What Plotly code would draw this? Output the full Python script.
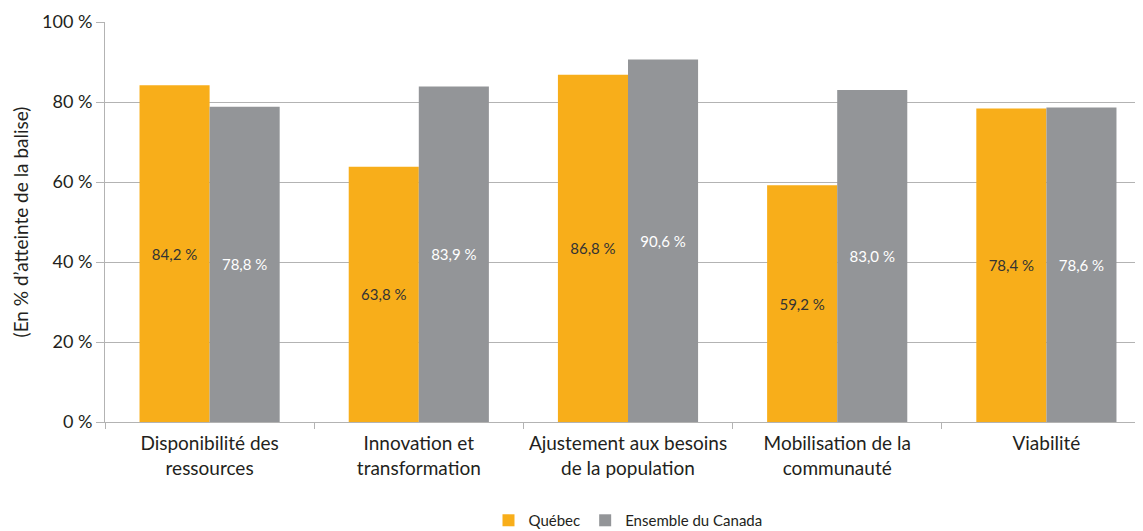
import plotly.graph_objects as go

categories = ["Disponibilité des<br>ressources", "Innovation et<br>transformation",
              "Ajustement aux besoins<br>de la population", "Mobilisation de la<br>communauté",
              "Viabilité"]
quebec = [84.2, 63.8, 86.8, 59.2, 78.4]
canada = [78.8, 83.9, 90.6, 83.0, 78.6]
y_ticks = [0, 20, 40, 60, 80, 100]


def fr(v):
    return f"{v:.1f}".replace(".", ",") + " %"


fig = go.Figure()
fig.add_trace(go.Bar(x=categories, y=quebec, name="Québec", marker_color="#F8AE1A",
                     marker_line_width=0,
                     text=[fr(v) for v in quebec], textposition="inside",
                     insidetextanchor="middle", textfont=dict(color="#333333", size=15)))
fig.add_trace(go.Bar(x=categories, y=canada, name="Ensemble du Canada", marker_color="#939598",
                     marker_line_width=0,
                     text=[fr(v) for v in canada], textposition="inside",
                     insidetextanchor="middle", textfont=dict(color="#ffffff", size=15)))

fig.update_layout(
    width=1143, height=523,
    barmode="group", bargap=0.33, bargroupgap=0,
    plot_bgcolor="white", paper_bgcolor="white",
    font=dict(family="Lato", color="#231f20", size=18),
    margin=dict(l=97, r=0, t=14, b=109, autoexpand=False),
    uniformtext=dict(mode="show", minsize=15),
    legend=dict(orientation="h", x=0.5, xanchor="center", yref="container",
                y=0.02, yanchor="middle", font=dict(size=15), itemwidth=30),
)
fig.update_yaxes(range=[0, 100], tickvals=y_ticks, ticktext=[f"{t} %" for t in y_ticks],
                 showgrid=True, gridcolor="#b3b3b3", gridwidth=1,
                 showline=True, linecolor="#b3b3b3", ticks="outside", ticklen=8,
                 tickcolor="#b3b3b3", zeroline=False,
                 title=dict(text="(En % d’atteinte de la balise)", font=dict(size=19), standoff=8))
fig.update_xaxes(showline=True, linecolor="#b3b3b3", ticks="outside", tickson="boundaries",
                 ticklen=6, tickcolor="#b3b3b3", ticklabelstandoff=4,
                 tickfont=dict(size=19))

fig.write_html("out.html")
